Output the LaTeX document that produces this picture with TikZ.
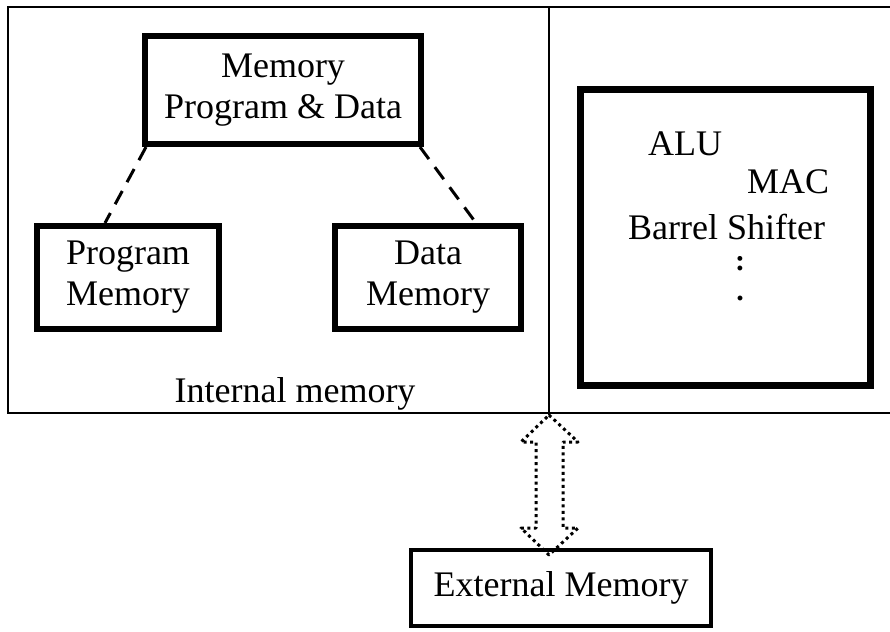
\documentclass[tikz,border=0pt]{standalone}
\usepackage{fontspec}
\setmainfont{Liberation Serif}
\usetikzlibrary{calc}
\begin{document}
\begin{tikzpicture}[x=1pt,y=-1pt,
  txt/.style={font=\fontsize{36}{41}\selectfont, inner sep=0pt},
  dotstxt/.style={font=\fontsize{30}{34}\selectfont\bfseries, inner sep=0pt, anchor=base},
  bigbox/.style={draw, line width=6pt, rectangle, inner sep=0pt, align=center, font=\fontsize{36}{41}\selectfont},
  dashline/.style={line width=3pt, dash pattern=on 15pt off 10pt},
  thinline/.style={line width=1.5pt}]
\useasboundingbox (0,0) rectangle (890,631);
% outer frame and divider
\coordinate (fTR) at (890,7);
\coordinate (fTL) at (8,7);
\coordinate (fBL) at (8,413);
\coordinate (fBR) at (890,413);
\coordinate (dTop) at (549,7);
\coordinate (dBot) at (549,415);
\draw[thinline] (fTR) -- (fTL) -- (fBL) -- (fBR);
\draw[thinline] (dTop) -- (dBot);
% boxes
\node[bigbox, minimum width=276pt, minimum height=108pt] (pd) at (283,90) {Memory\\Program \& Data};
\node[bigbox, minimum width=182pt, minimum height=103pt] (pm) at (128,277.5) {Program\\Memory};
\node[bigbox, minimum width=186pt, minimum height=103pt] (dm) at (428,277.5) {Data\\Memory};
\node[draw, line width=7pt, minimum width=290pt, minimum height=296pt, inner sep=0pt] (cpu) at (725.5,237.5) {};
\node[draw, line width=4pt, minimum width=300pt, minimum height=76pt, inner sep=0pt, font=\fontsize{36}{41}\selectfont] (ext) at (561,588) {External Memory};
% dashed links
\draw[dashline] ($(pd.south west)+(4,0)$) -- ($(pm.north west)+(71,0)$);
\draw[dashline] ($(pd.south east)+(-4,0)$) -- ($(dm.north west)+(144,0)$);
% texts
\node[txt, anchor=base] (alu) at (685,156) {ALU};
\node[txt, anchor=base] (mac) at (788,193) {MAC};
\node[txt, anchor=base] (bs) at (726.5,239) {Barrel Shifter};
\node[dotstxt] (colon) at (740,270) {:};
\node[dotstxt] (dot) at (740,300) {.};
\node[txt, anchor=base] (im) at (295,402) {Internal memory};
% dotted double arrow
\coordinate (aT) at (549,415);
\coordinate (aB) at (549,555);
\draw[line width=3pt, dash pattern=on 3pt off 3.5pt, line join=round]
  (aT) -- (578,442) -- (563,442) -- (563,528) -- (578,528) -- (aB)
  -- (521,528) -- (536,528) -- (536,442) -- (521,442) -- cycle;
\end{tikzpicture}
\end{document}
